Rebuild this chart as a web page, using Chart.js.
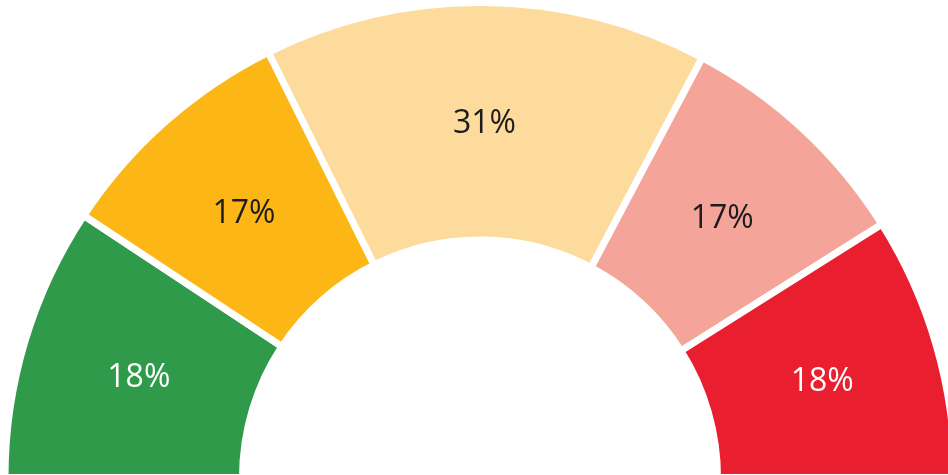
<!DOCTYPE html>
<html>
<head>
<meta charset="utf-8">
<script src="https://cdn.jsdelivr.net/npm/chart.js@4"></script>
<style>
  html, body { margin: 0; padding: 0; background: #fff; overflow: hidden; }
  .wrap { position: absolute; left: 0; top: 0; width: 960px; height: 480px; }
</style>
</head>
<body>
<div class="wrap"><canvas id="gauge"></canvas></div>
<script>
// segment shares (angles), and the printed labels
const categories = ['Green', 'Amber', 'Light amber', 'Pink', 'Red'];
const shares = [18.6, 16.7, 30.2, 16.6, 17.9];
const labels = ['18%', '17%', '31%', '17%', '18%'];
const colours = ['#2e9a4a', '#fcb716', '#fddb9c', '#f4a498', '#e91e2e'];
const textColours = ['#ffffff', '#1c1c1c', '#1c1c1c', '#1c1c1c', '#ffffff'];

// draw the percentage text in the middle of every arc
const arcLabels = {
    id: 'arcLabels',
    afterDatasetsDraw(chart) {
        const ctx = chart.ctx;
        const arcs = chart.getDatasetMeta(0).data;
        ctx.save();
        ctx.font = '32px "Open Sans", sans-serif';
        ctx.textAlign = 'center';
        ctx.textBaseline = 'middle';
        arcs.forEach((arc, i) => {
            const p = arc.tooltipPosition();
            ctx.fillStyle = textColours[i];
            ctx.fillText(labels[i], p.x, p.y + 3);
        });
        ctx.restore();
    }
};

new Chart('gauge', {
    type: 'doughnut',
    data: {
        labels: categories,
        datasets: [{
            data: shares,
            backgroundColor: colours,
            borderColor: '#ffffff',
            borderWidth: 7,
            radius: 475,
            cutout: '50%'
        }]
    },
    options: {
        responsive: true,
        maintainAspectRatio: false,
        animation: false,
        rotation: -90,
        circumference: 180,
        layout: { padding: 0 },
        plugins: {
            legend: { display: false },
            tooltip: { enabled: false }
        }
    },
    plugins: [arcLabels]
});
</script>
</body>
</html>
